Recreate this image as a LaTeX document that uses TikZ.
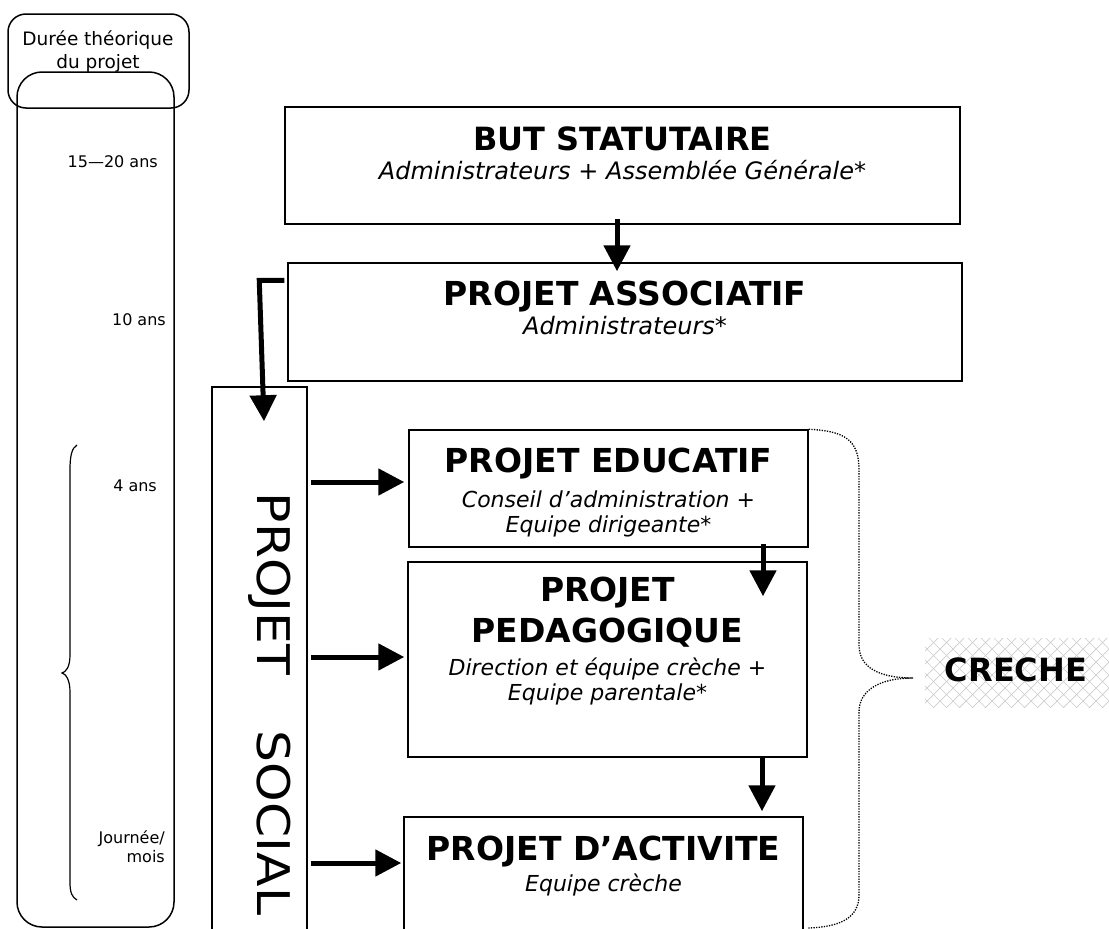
\documentclass[tikz,border=0pt]{standalone}
\usepackage{fontspec}
\setmainfont{DejaVu Sans}
\usetikzlibrary{arrows.meta,calc}
\begin{document}
\begin{tikzpicture}[x=1pt,y=-1pt,
  box/.style={draw,line width=1.5pt,inner sep=0pt},
  arr/.style={line width=5pt,-{Triangle[length=26pt,width=26pt]}},
  ttl/.style={font=\fontsize{33}{40}\selectfont\bfseries,anchor=base,inner sep=0pt},
  sub/.style={font=\fontsize{22}{26}\selectfont\itshape,anchor=base,inner sep=0pt},
  lbl/.style={font=\fontsize{16}{19}\selectfont,anchor=base east,inner sep=0pt},
  dtxt/.style={font=\fontsize{18.5}{22}\selectfont,anchor=base,inner sep=0pt},
  vtxt/.style={font=\fontsize{45}{54}\selectfont,rotate=-90,inner sep=0pt,text height=32.8pt,text depth=0pt},
  brace/.style={line width=1.2pt},
  dotbrace/.style={line width=1.3pt,dash pattern=on 1.3pt off 1.3pt},
  hatch/.style={gray!40,line width=0.7pt}
]
\useasboundingbox (0,0) rectangle (1109,929);
\clip (0,0) rectangle (1109,929);

% ---------- left column ----------
\node[box,rounded corners=18pt,minimum width=181pt,minimum height=94pt] (duree) at (98.5,61) {};
\node[box,rounded corners=25pt,minimum width=157pt,minimum height=855pt] (echelle) at (95.5,499.5) {};
\node[dtxt] (d1) at (98,45) {Durée théorique};
\node[dtxt] (d2) at (98,68) {du projet};
\node[lbl] (l1) at (158,167) {15—20 ans};
\node[lbl] (l2) at (166,325) {10 ans};
\node[lbl] (l3) at (157,491) {4 ans};
\node[lbl] (l4) at (165,843) {Journée/};
\node[lbl] (l5) at (165,862) {mois};
\draw[brace] (77,445) .. controls (72,448) and (70,455) .. (70,470) -- (70,655)
  .. controls (70,667) and (66,672) .. (62,673)
  .. controls (66,674) and (70,680) .. (70,692) -- (70,882)
  .. controls (70,893) and (72,897) .. (77,900);

% ---------- boxes ----------
\node[box,minimum width=675pt,minimum height=117pt] (but) at (622.5,165.5) {};
\node[ttl,font=\fontsize{32}{38}\selectfont\bfseries] (butT) at (622.5,150) {BUT STATUTAIRE};
\node[sub,font=\fontsize{24}{28}\selectfont\itshape] (butS) at (622.5,179) {Administrateurs + Assemblée Générale*};

\node[box,minimum width=674pt,minimum height=118pt] (assoc) at (625,322) {};
\node[ttl] (assocT) at (625,305) {PROJET ASSOCIATIF};
\node[sub,font=\fontsize{24}{28}\selectfont\itshape] (assocS) at (625,334) {Administrateurs*};

\node[box,minimum width=95pt,minimum height=563pt] (social) at (259.5,668.5) {};
\node[vtxt] (soc1) at (274,584) {\scalebox{1.12}[1]{PROJET}};
\node[vtxt] (soc2) at (274,823) {\scalebox{1.12}[1]{SOCIAL}};

\node[box,minimum width=399pt,minimum height=117pt] (edu) at (608.5,488.5) {};
\node[ttl] (eduT) at (608.5,472) {PROJET EDUCATIF};
\node[sub] (eduS1) at (608.5,507) {Conseil d’administration +};
\node[sub] (eduS2) at (608.5,532) {Equipe dirigeante*};

\node[box,minimum width=399pt,minimum height=195pt] (ped) at (607.5,659.5) {};
\node[ttl] (pedT1) at (607.5,601) {PROJET};
\node[ttl] (pedT2) at (607.5,642) {PEDAGOGIQUE};
\node[sub] (pedS1) at (607.5,675) {Direction et équipe crèche +};
\node[sub] (pedS2) at (607.5,700) {Equipe parentale*};

\node[box,minimum width=399pt,minimum height=133pt] (act) at (603.5,883.5) {};
\node[ttl] (actT) at (603.5,860) {PROJET D’ACTIVITE};
\node[sub] (actS) at (603.5,891) {Equipe crèche};

% ---------- creche ----------
\begin{scope}
  \clip (925,638) rectangle (1109,707);
  \foreach \k in {0,...,30} {
    \draw[hatch] (830+\k*13,720) -- +(90,-90);
    \draw[hatch] (830+\k*13,630) -- +(90,90);
  }
\end{scope}
\node[ttl,font=\fontsize{32}{38}\selectfont\bfseries] (creche) at (1016,681.5) {CRECHE};
\coordinate (btip) at (913,678);
\coordinate (bend) at (808,928);
\draw[dotbrace] (edu.north east) .. controls (845,431) and (859,440) .. (859,470) -- (859,645)
  .. controls (859,668) and (880,678) .. (btip)
  .. controls (880,678) and (859,690) .. (859,712) -- (859,895)
  .. controls (859,918) and (840,927) .. (bend);

% ---------- arrows ----------
\draw[arr] ([xshift=-5.5pt,yshift=6pt]but.south) -- ([xshift=-8pt,yshift=-9pt]assoc.north);
\draw[arr,line join=miter] ([xshift=-3pt,yshift=-18pt]assoc.north west) -- ++(-25pt,0pt)
  -- ([xshift=4.5pt,yshift=-35pt]social.north);
\coordinate (t1) at ([xshift=-4pt,yshift=6.5pt]edu.west);
\coordinate (t2) at ([xshift=-3pt,yshift=2.5pt]ped.west);
\coordinate (t3) at ([xshift=-2pt,yshift=20.5pt]act.west);
\draw[arr] ([xshift=3pt]social.east |- t1) -- (t1);
\draw[arr] ([xshift=3pt]social.east |- t2) -- (t2);
\draw[arr] ([xshift=3pt]social.east |- t3) -- (t3);
\draw[arr] ([xshift=154.5pt,yshift=4pt]edu.south) -- ([xshift=155.5pt,yshift=-35pt]ped.north);
\draw[arr] ([xshift=154.5pt,yshift=2pt]ped.south) -- ([xshift=158.5pt,yshift=5pt]act.north);
\end{tikzpicture}
\end{document}
